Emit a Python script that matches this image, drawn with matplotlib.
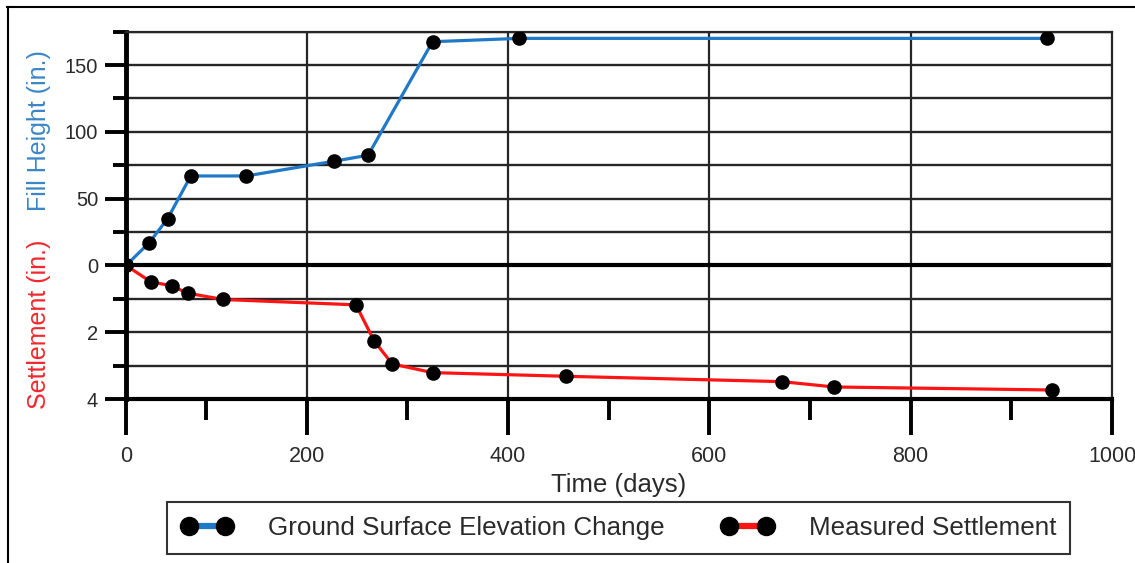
import numpy as np
import matplotlib
matplotlib.use("Agg")
import matplotlib.pyplot as plt
from matplotlib.lines import Line2D

# ---- data ----
fill_days = [0, 29, 52, 81, 140, 227, 261, 325, 411, 935]
fill_height = [0, 17, 35, 67, 67, 78, 82.5, 167.5, 170, 170]

settle_days = [0, 31, 57, 77, 117, 249, 267, 285, 325, 458, 672, 724, 940]
settlement = [0, 0.49, 0.61, 0.83, 1.02, 1.18, 2.26, 2.95, 3.21, 3.32, 3.48, 3.64, 3.73]

x_major = [0, 200, 400, 600, 800, 1000]
x_minor = [100, 300, 500, 700, 900]
y_major = [150, 100, 50, 0, -50, -100]
y_major_labels = ["150", "100", "50", "0", "2", "4"]
y_minor = [175, 125, 75, 25, -25, -75]

labels = ["Ground Surface Elevation Change", "Measured Settlement"]

# ---- style ----
plt.rcParams['font.family'] = ['Liberation Sans', 'DejaVu Sans']
BLUE = '#2079c7'
RED = '#ff1414'
BLUE_TXT = '#3b86c8'
RED_TXT = '#f2282d'
TXT = '#2a2a2a'
GRID = '#262626'

W, H = 1135, 563
fig = plt.figure(figsize=(W / 100, H / 100), dpi=100)
L, R, T, B = 126, 1112, 31.7, 399
ax = fig.add_axes([L / W, 1 - B / H, (R - L) / W, (B - T) / H])

# piecewise-linear time axis (first 100 days are compressed in the original)
def fwd(x):
    x = np.asarray(x, float)
    return np.where(x < 100, x * 0.8, 80 + (x - 100) * (906 / 900))

def inv(y):
    y = np.asarray(y, float)
    return np.where(y < 80, y / 0.8, 100 + (y - 80) * (900 / 906))

ax.set_xscale('function', functions=(fwd, inv))
ax.set_xlim(0, 1000)
ax.set_ylim(-100, 175)

ax2 = ax.twinx()
ax2.set_ylim(4, -7)  # settlement: 1 in. == 25 in. of fill height, pointing down

# grid
for y in y_major + y_minor:
    ax.axhline(y, color=GRID, lw=1.7, zorder=1)
ax.axhline(0, color='black', lw=3, zorder=1.5)
for x in x_major[1:-1]:
    ax.axvline(x, color=GRID, lw=1.6, zorder=1)

# spines
for s in ['top', 'right']:
    ax.spines[s].set_linewidth(1.6)
    ax.spines[s].set_color(GRID)
ax.spines['left'].set_linewidth(3.5)
ax.spines['bottom'].set_linewidth(3)
for s in ax2.spines.values():
    s.set_visible(False)
ax2.set_yticks([])
ax2.tick_params(right=False, labelright=False)

# ticks
ax.set_xticks(x_major)
ax.set_xticklabels([str(v) for v in x_major])
ax.set_xticks(x_minor, minor=True)
ax.set_yticks(y_major)
ax.set_yticklabels(y_major_labels)
ax.set_yticks(y_minor, minor=True)
ax.tick_params(axis='x', which='major', length=26, width=2.8, pad=7.5, labelsize=15.5,
               labelcolor=TXT, color='black')
ax.tick_params(axis='x', which='minor', length=15, width=2.8, color='black')
ax.tick_params(axis='y', which='major', length=15, width=2.8, pad=5, labelsize=14.5,
               labelcolor=TXT, color='black')
ax.tick_params(axis='y', which='minor', length=9.4, width=2.8, color='black')

# data
ax.plot(fill_days, fill_height, color=BLUE, lw=2.3, zorder=3,
        marker='o', ms=9.5, mfc='black', mec='black')
ax2.plot(settle_days, settlement, color=RED, lw=2.3, zorder=3,
         marker='o', ms=9.5, mfc='black', mec='black')

# axis labels
ax.set_xlabel("Time (days)", fontsize=18.5, color=TXT, labelpad=5)
fig.text(39 / W, 1 - 131 / H, "Fill Height (in.)", rotation=90, color=BLUE_TXT,
         fontsize=18, ha='center', va='center')
fig.text(39 / W, 1 - 324 / H, "Settlement (in.)", rotation=90, color=RED_TXT,
         fontsize=18, ha='center', va='center')

# legend
handles = [
    Line2D([], [], color=BLUE, lw=4.5, marker='o', ms=13, mfc='black', mec='black'),
    Line2D([], [], color=RED, lw=4.5, marker='o', ms=13, mfc='black', mec='black'),
]
leg = fig.legend(handles, labels, loc='center', ncol=2, numpoints=2,
                 bbox_to_anchor=(618.5 / W, 1 - 528 / H), fontsize=18.7,
                 frameon=True, fancybox=False, edgecolor='black',
                 handlelength=2.0, handletextpad=1.35, columnspacing=2.2,
                 borderpad=0.55)
leg.get_frame().set_linewidth(1.5)
for t in leg.get_texts():
    t.set_color(TXT)

# outer frame (top and left only)
fig.add_artist(Line2D([7 / W, 1], [1 - 7 / H, 1 - 7 / H], color='black', lw=1.5,
                      transform=fig.transFigure))
fig.add_artist(Line2D([7.5 / W, 7.5 / W], [0, 1 - 7 / H], color='black', lw=1.5,
                      transform=fig.transFigure))

fig.savefig("out.png", dpi=100, facecolor='white')
